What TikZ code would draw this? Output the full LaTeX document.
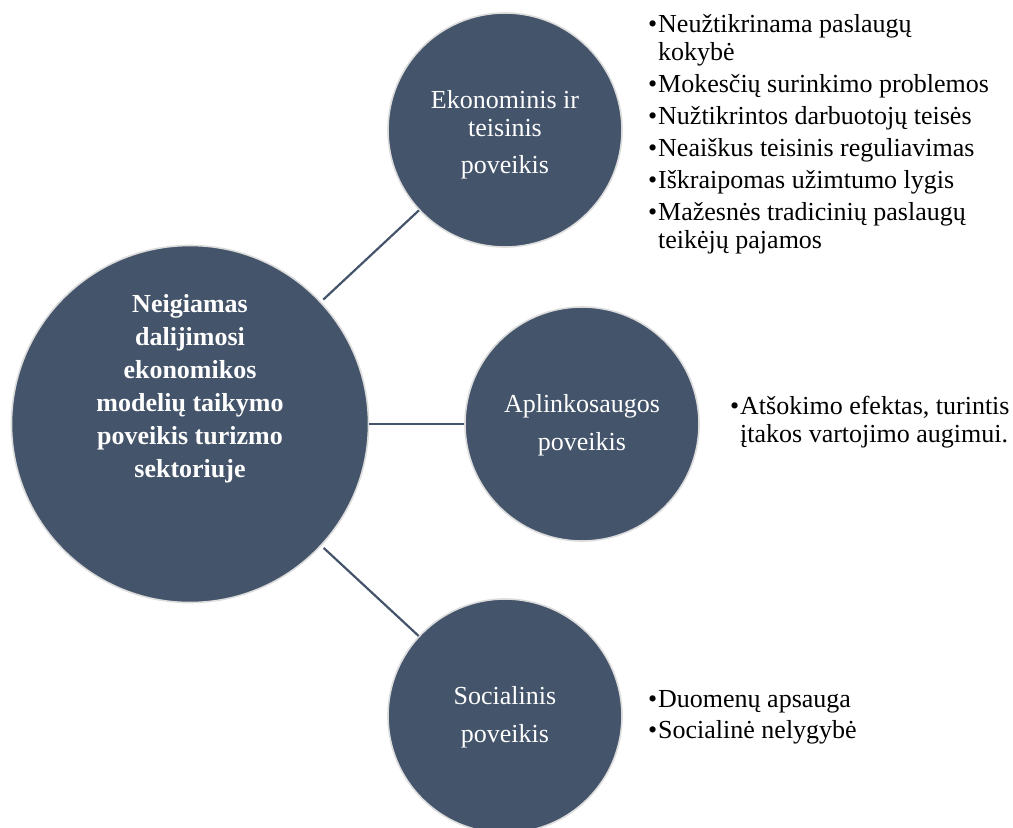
\documentclass[tikz,border=0pt]{standalone}
\usepackage{fontspec}
\setmainfont{Liberation Serif}
\definecolor{slate}{HTML}{44546A}
\definecolor{rim}{HTML}{DCDCDC}
\newcommand{\bul}{\makebox[10pt][l]{\textbullet}}
\begin{document}
\begin{tikzpicture}[x=1pt,y=-1pt,
  disc/.style={circle, fill=slate, draw=rim, line width=1.6pt, inner sep=0pt},
  hub/.style={disc, minimum size=357pt},
  sat/.style={disc, minimum size=234pt},
  link/.style={draw=slate, line width=2.2pt},
  intext/.style={anchor=base, inner sep=0pt, text=white, font=\fontsize{26}{28}\selectfont},
  hubtext/.style={anchor=base, inner sep=0pt, text=white, font=\fontsize{26}{33}\selectfont\bfseries},
  blist/.style={anchor=base west, inner sep=0pt, font=\fontsize{26}{28}\selectfont}
]
\useasboundingbox (0,0) rectangle (1013,828);
\clip (0,0) rectangle (1013,828);

% circles
\node[hub] (hub) at (190,424) {};
\node[sat] (eko) at (505,130) {};
\node[sat] (env) at (582,424) {};
\node[sat] (soc) at (505,716) {};

% connectors between the central circle and the three satellites
\draw[link, shorten <=3pt] (hub) -- (eko);
\draw[link] (hub) -- (env);
\draw[link, shorten <=3pt] (hub) -- (soc);

% circle captions
\node[hubtext] (hubT) at (190,312) {\renewcommand{\arraystretch}{1}\begin{tabular}[t]{@{}c@{}}
Neigiamas\\ dalijimosi\\ ekonomikos\\ modelių taikymo\\ poveikis turizmo\\ sektoriuje\end{tabular}};
\node[intext] (ekoT) at (505,108) {\renewcommand{\arraystretch}{1}\begin{tabular}[t]{@{}c@{}}
Ekonominis ir\\ teisinis\\[9pt] poveikis\end{tabular}};
\node[intext] (envT) at (582,412) {\renewcommand{\arraystretch}{1}\begin{tabular}[t]{@{}c@{}}
Aplinkosaugos\\[10pt] poveikis\end{tabular}};
\node[intext] (socT) at (505,704) {\renewcommand{\arraystretch}{1}\begin{tabular}[t]{@{}c@{}}
Socialinis\\[10pt] poveikis\end{tabular}};

% bullet lists
\node[blist] (ekoL) at (648,32) {\renewcommand{\arraystretch}{1}\begin{tabular}[t]{@{}l@{}l@{}}
\bul & Neužtikrinama paslaugų\\
 & kokybė\\[4pt]
\bul & Mokesčių surinkimo problemos\\[4pt]
\bul & Nužtikrintos darbuotojų teisės\\[4pt]
\bul & Neaiškus teisinis reguliavimas\\[4pt]
\bul & Iškraipomas užimtumo lygis\\[4pt]
\bul & Mažesnės tradicinių paslaugų\\
 & teikėjų pajamos\end{tabular}};
\node[blist] (envL) at (730,414) {\renewcommand{\arraystretch}{1}\begin{tabular}[t]{@{}l@{}l@{}}
\bul & Atšokimo efektas, turintis\\
 & įtakos vartojimo augimui.\end{tabular}};
\node[blist] (socL) at (648,707) {\renewcommand{\arraystretch}{1}\begin{tabular}[t]{@{}l@{}l@{}}
\bul & Duomenų apsauga\\[3pt]
\bul & Socialinė nelygybė\end{tabular}};
\end{tikzpicture}
\end{document}
